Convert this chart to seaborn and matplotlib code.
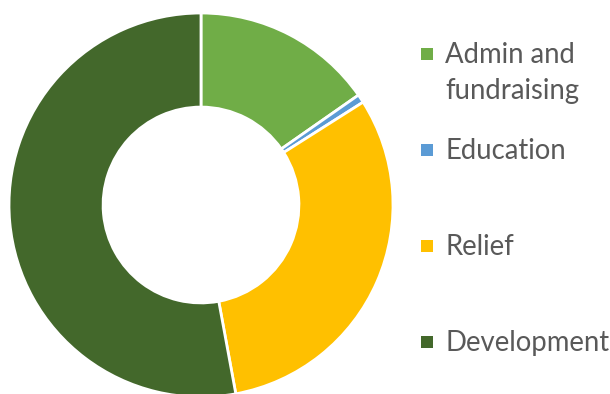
import matplotlib
matplotlib.use("Agg")
import matplotlib.pyplot as plt
import seaborn as sns

sns.set_theme(style="white")
plt.rcParams["font.family"] = ["Lato", "DejaVu Sans"]

categories = ["Admin and\nfundraising", "Education", "Relief", "Development"]
shares = [15.3, 0.7, 31.1, 52.9]
colors = ["#70AD47", "#5B9BD5", "#FFC000", "#43682B"]

W, H = 610, 394
fig = plt.figure(figsize=(W / 100, H / 100), dpi=100)
fig.patch.set_facecolor("white")

# donut: centre (201, 205) px, outer radius 192 px
cx, cy, r = 201, 205, 192
ax = fig.add_axes([(cx - r) / W, (H - cy - r) / H, 2 * r / W, 2 * r / H])
ax.pie(shares, colors=colors, startangle=90, counterclock=False,
       radius=1.0,
       wedgeprops=dict(width=0.49, edgecolor="white", linewidth=2))
ax.set_xlim(-1, 1)
ax.set_ylim(-1, 1)
ax.set_aspect("equal")
ax.axis("off")

# legend entries
marker_x = 427
text_x = 445
ys = [54, 150, 246, 342]
for label, color, y in zip(categories, colors, ys):
    fig.patches.append(plt.Rectangle(((marker_x - 6) / W, (H - y - 6) / H), 12 / W, 12 / H,
                                     transform=fig.transFigure, facecolor=color,
                                     edgecolor="none"))
    fig.text(text_x / W, (H - y + 12) / H, label, fontsize=19.8, color="#595959",
             ha="left", va="top", linespacing=1.5)

fig.savefig("out.png", dpi=100, facecolor="white")
